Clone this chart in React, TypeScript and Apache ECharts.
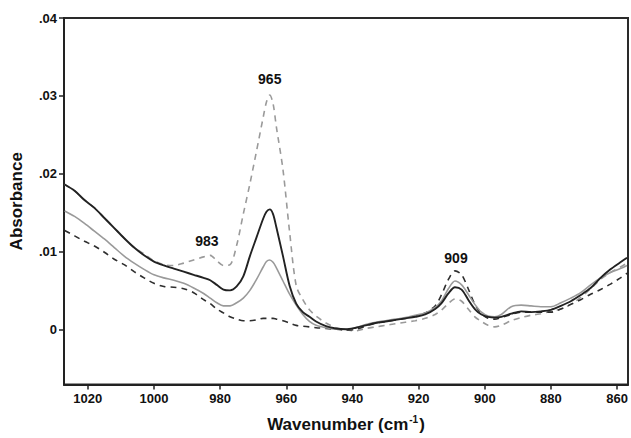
import React, { useEffect, useRef } from "react";
import * as echarts from "echarts";

const wavenumbers = [1027, 1024, 1021, 1018, 1015, 1012, 1009, 1006, 1003, 1000, 997, 994, 991, 988, 985, 983, 981, 979, 977, 975, 973, 971, 969, 967, 966, 965, 964, 963, 961, 959, 957, 955, 953, 951, 948, 945, 942, 939, 936, 933, 930, 927, 924, 921, 918, 915, 913, 911, 909, 907, 905, 903, 901, 899, 897, 895, 892, 889, 886, 883, 880, 877, 874, 871, 868, 865, 862, 859, 857];

const blackSolid = [0.0186, 0.0178, 0.0166, 0.0156, 0.0143, 0.013, 0.0117, 0.0105, 0.0095, 0.0087, 0.0082, 0.0078, 0.0074, 0.007, 0.0066, 0.0063, 0.0057, 0.0051, 0.005, 0.0055, 0.0068, 0.0094, 0.0118, 0.0142, 0.0151, 0.0154, 0.0148, 0.0131, 0.0094, 0.0056, 0.0033, 0.0022, 0.0016, 0.001, 0.0004, 0.0001, 0.0, 0.0002, 0.0005, 0.0008, 0.001, 0.0012, 0.0014, 0.0016, 0.0019, 0.0026, 0.0034, 0.0046, 0.0054, 0.0051, 0.0038, 0.0026, 0.0019, 0.0016, 0.0015, 0.0016, 0.002, 0.0023, 0.0022, 0.0023, 0.0025, 0.003, 0.0036, 0.0044, 0.0053, 0.0066, 0.0077, 0.0086, 0.0092];

const graySolid = [0.0152, 0.0145, 0.0136, 0.0126, 0.0116, 0.0105, 0.0094, 0.0085, 0.0077, 0.007, 0.0066, 0.0063, 0.0059, 0.0053, 0.0046, 0.004, 0.0034, 0.003, 0.003, 0.0034, 0.004, 0.005, 0.0064, 0.008, 0.0087, 0.0089, 0.0086, 0.0079, 0.0062, 0.0045, 0.0031, 0.0019, 0.001, 0.0005, 0.0002, 0.0, 0.0, 0.0002, 0.0006, 0.0009, 0.0011, 0.0013, 0.0015, 0.0018, 0.0021, 0.0028, 0.0037, 0.0052, 0.0062, 0.0057, 0.0045, 0.0032, 0.0022, 0.0017, 0.0016, 0.0019, 0.0029, 0.0031, 0.003, 0.0029, 0.0029, 0.0034, 0.004, 0.0047, 0.0057, 0.0066, 0.0073, 0.0078, 0.0082];

const darkDashed = [0.0127, 0.012, 0.0113, 0.0107, 0.0099, 0.009, 0.0083, 0.0074, 0.0066, 0.0059, 0.0055, 0.0054, 0.0052, 0.0047, 0.0038, 0.0033, 0.0026, 0.0021, 0.0016, 0.0013, 0.0011, 0.0011, 0.0012, 0.0014, 0.0014, 0.0014, 0.0014, 0.0013, 0.0011, 0.0008, 0.0005, 0.0004, 0.0003, 0.0002, 0.0001, 0.0, -0.0001, 0.0, 0.0004, 0.0008, 0.001, 0.0012, 0.0014, 0.0017, 0.0021, 0.003, 0.0045, 0.0064, 0.0075, 0.007, 0.0052, 0.0032, 0.002, 0.0014, 0.0013, 0.0015, 0.0019, 0.0022, 0.0022, 0.0022, 0.0022, 0.0026, 0.0032, 0.0038, 0.0045, 0.0051, 0.0058, 0.0066, 0.0072];

const lightDashed = [0.0186, 0.0178, 0.0166, 0.0156, 0.0143, 0.013, 0.0117, 0.0105, 0.0097, 0.0088, 0.0083, 0.0082, 0.0085, 0.0089, 0.0093, 0.0095, 0.0088, 0.0082, 0.0083, 0.0108, 0.0148, 0.0187, 0.0229, 0.0272, 0.0292, 0.0301, 0.029, 0.026, 0.0205, 0.0125, 0.0056, 0.0038, 0.0025, 0.0017, 0.0008, 0.0002, -0.0001, -0.0002, 0.0001, 0.0003, 0.0005, 0.0007, 0.0009, 0.0011, 0.0014, 0.0019, 0.0025, 0.0033, 0.0039, 0.0036, 0.0026, 0.0016, 0.001, 0.0005, 0.0003, 0.0005, 0.0011, 0.0015, 0.0018, 0.002, 0.0023, 0.0026, 0.0032, 0.0041, 0.0052, 0.0064, 0.0073, 0.008, 0.0085];

const xTicks = [1020, 1000, 980, 960, 940, 920, 900, 880, 860];
const yTicks = [0, 0.01, 0.02, 0.03, 0.04];

const peakLabels = ["965", "983", "909"];
const peakLabelX = [965, 984, 908.7];
const peakLabelY = [0.0321, 0.0114, 0.0091];

const FONT = "Liberation Sans, Arial, sans-serif";

function pairs(ys: number[]) {
  return wavenumbers.map((w, i) => [w, ys[i]]);
}

export default function App() {
  const ref = useRef<HTMLDivElement>(null);
  useEffect(() => {
    if (!ref.current) return;
    const chart = echarts.init(ref.current, null, { renderer: "svg" });
    const lineBase = { type: "line", showSymbol: false, symbol: "none", smooth: 0.3, z: 2 };
    chart.setOption({
      animation: false,
      backgroundColor: "#ffffff",
      grid: { left: 64, right: 3, top: 18, bottom: 48, show: true, borderColor: "#2a2a2a", borderWidth: 2, backgroundColor: "transparent" },
      xAxis: {
        type: "value",
        inverse: true,
        min: 856.7,
        max: 1027.2,
        splitLine: { show: false },
        axisLine: { show: true, onZero: false, lineStyle: { color: "#222", width: 2 } },
        axisTick: { show: true, length: 5, inside: false, lineStyle: { color: "#222", width: 1.5 }, customValues: xTicks },
        axisLabel: { show: true, customValues: xTicks, formatter: (v: number) => String(Math.round(v)), color: "#111", fontFamily: FONT, fontWeight: "bold", fontSize: 13, margin: 7 },
        name: "{a|Wavenumber (cm}{s|-1}{a|)}",
        nameLocation: "middle",
        nameGap: 30,
        nameTextStyle: {
          rich: {
            a: { fontFamily: FONT, fontWeight: "bold", fontSize: 17, color: "#111", lineHeight: 20 },
            s: { fontFamily: FONT, fontWeight: "bold", fontSize: 10, color: "#111", verticalAlign: "top", lineHeight: 20, padding: [0, 1, 8, 1] },
          },
        },
      },
      yAxis: {
        type: "value",
        min: -0.0071,
        max: 0.04,
        splitLine: { show: false },
        axisLine: { show: true, onZero: false, lineStyle: { color: "#222", width: 2 } },
        axisTick: { show: true, length: 5, inside: false, lineStyle: { color: "#222", width: 1.5 }, customValues: yTicks },
        axisLabel: {
          show: true,
          customValues: yTicks,
          color: "#111",
          fontFamily: FONT,
          fontWeight: "bold",
          fontSize: 13,
          margin: 7,
          formatter: (v: number) => (Math.abs(v) < 1e-9 ? "0" : v.toFixed(2).replace(/^0/, "")),
        },
        name: "Absorbance",
        nameLocation: "middle",
        nameRotate: 90,
        nameGap: 39,
        nameTextStyle: { fontFamily: FONT, fontWeight: "bold", fontSize: 17, color: "#111" },
      },
      series: [
        { ...lineBase, name: "light dashed", data: pairs(lightDashed), lineStyle: { color: "#9a9a9a", width: 1.6, type: [6, 5] } },
        { ...lineBase, name: "dark dashed", data: pairs(darkDashed), lineStyle: { color: "#2e2e2e", width: 1.6, type: [6, 5] } },
        { ...lineBase, name: "gray solid", data: pairs(graySolid), lineStyle: { color: "#9a9a9a", width: 1.6 } },
        { ...lineBase, name: "black solid", data: pairs(blackSolid), lineStyle: { color: "#222222", width: 1.9 } },
        {
          type: "scatter",
          name: "peaks",
          symbol: "circle",
          symbolSize: 0.01,
          itemStyle: { color: "#111", opacity: 1 },
          z: 5,
          data: peakLabels.map((t, i) => [peakLabelX[i], peakLabelY[i], t]),
          label: {
            show: true,
            position: "inside",
            formatter: (p: any) => p.data[2],
            fontFamily: FONT,
            fontWeight: "bold",
            fontSize: 14,
            color: "#111",
            textBorderWidth: 0,
          },
        },
      ],
    });
    return () => chart.dispose();
  }, []);
  return <div ref={ref} style={{ position: "fixed", left: 0, top: 0, width: 631, height: 438, background: "#fff" }} />;
}
